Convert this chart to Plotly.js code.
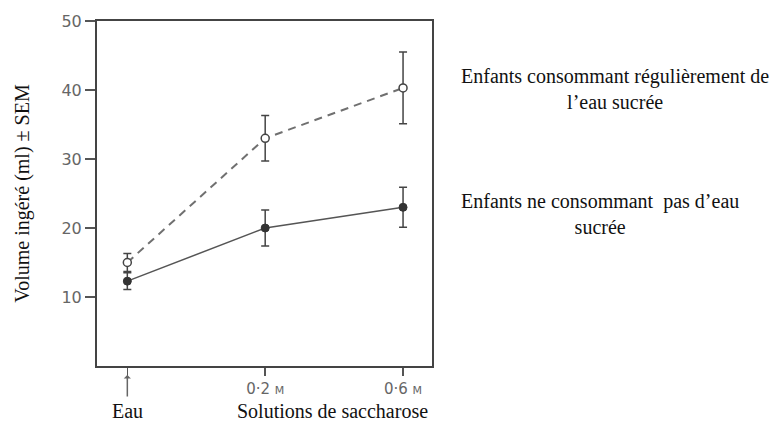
<!DOCTYPE html>
<html>
<head>
<meta charset="utf-8">
<script src="https://cdn.plot.ly/plotly-3.0.1.min.js"></script>
<style>html,body{margin:0;padding:0;background:#fff;}#chart{width:783px;height:425px;}</style>
</head>
<body>
<div id="chart"></div>
<script>
// Data
const categories = [0, 1, 2];
const tickLabels = ["", "0·2 <span style='font-size:11px'>M</span>", "0·6 <span style='font-size:11px'>M</span>"];
const sugarUsers = [15.0, 33.0, 40.3];          // Enfants consommant régulièrement de l'eau sucrée
const sugarUsersSEM = [1.3, 3.3, 5.2];
const nonUsers = [12.3, 20.0, 23.0];             // Enfants ne consommant pas d'eau sucrée
const nonUsersSEM = [1.2, 2.6, 2.9];
const seriesNames = ["Enfants consommant régulièrement de<br>l’eau sucrée", "Enfants ne consommant  pas d’eau<br>sucrée"];

const W = 783, H = 425;
const M = {l: 97, r: 351, t: 21, b: 59};
const pw = W - M.l - M.r, ph = H - M.t - M.b;
const px = x => (x - M.l) / pw;
const py = y => (H - M.b - y) / ph;
const serif = "'Liberation Serif', 'Times New Roman', serif";
const sans = "'DejaVu Sans', sans-serif";

const traces = [
  {
    x: categories, y: sugarUsers, type: 'scatter', mode: 'lines+markers', name: seriesNames[0],
    line: {color: '#707070', width: 2, dash: '8px,6px'},
    marker: {symbol: 'circle', size: 8, color: '#ffffff', line: {color: '#444', width: 1.5}},
    error_y: {type: 'data', array: sugarUsersSEM, visible: true, color: '#444', thickness: 1.5, width: 4}
  },
  {
    x: categories, y: nonUsers, type: 'scatter', mode: 'lines+markers', name: seriesNames[1],
    line: {color: '#555', width: 1.5},
    marker: {symbol: 'circle', size: 8, color: '#333', line: {color: '#333', width: 1}},
    error_y: {type: 'data', array: nonUsersSEM, visible: true, color: '#444', thickness: 1.5, width: 4}
  }
];

const layout = {
  width: W, height: H,
  margin: M,
  paper_bgcolor: '#fff', plot_bgcolor: '#fff',
  showlegend: false,
  xaxis: {
    range: [-0.22, 2.21], tickmode: 'array', tickvals: categories, ticktext: tickLabels,
    showgrid: false, zeroline: false, showline: true, mirror: true, linecolor: '#444', linewidth: 2,
    ticks: 'outside', ticklen: 8, tickwidth: 1.5, tickcolor: '#555',
    tickfont: {family: sans, size: 15, color: '#666'}
  },
  yaxis: {
    range: [0, 50], tickvals: [10, 20, 30, 40, 50],
    showgrid: false, zeroline: false, showline: true, mirror: true, linecolor: '#444', linewidth: 2,
    ticks: 'outside', ticklen: 10, tickwidth: 1.5, tickcolor: '#555',
    tickfont: {family: sans, size: 16, color: '#666'},
    title: {text: 'Volume ingéré (ml) ± SEM', font: {family: serif, size: 20, color: '#111'}, standoff: 26}
  },
  annotations: [
    {xref: 'x', yref: 'paper', x: 0, y: py(375), ax: 0, ay: 23, text: '', showarrow: true,
     arrowhead: 1, arrowsize: 0.8, arrowwidth: 1.5, arrowcolor: '#666'},
    {xref: 'paper', yref: 'paper', x: px(127), y: py(411), text: 'Eau', showarrow: false,
     font: {family: serif, size: 20, color: '#111'}, xanchor: 'center', yanchor: 'middle'},
    {xref: 'paper', yref: 'paper', x: px(332), y: py(411), text: 'Solutions de saccharose', showarrow: false,
     font: {family: serif, size: 20, color: '#111'}, xanchor: 'center', yanchor: 'middle'},
    {xref: 'paper', yref: 'paper', x: px(615), y: py(89), text: seriesNames[0], showarrow: false, align: 'center',
     font: {family: serif, size: 20, color: '#111'}, xanchor: 'center', yanchor: 'middle'},
    {xref: 'paper', yref: 'paper', x: px(600), y: py(214), text: seriesNames[1], showarrow: false, align: 'center',
     font: {family: serif, size: 20, color: '#111'}, xanchor: 'center', yanchor: 'middle'}
  ]
};

Plotly.newPlot('chart', traces, layout, {staticPlot: true, displayModeBar: false});
</script>
</body>
</html>
